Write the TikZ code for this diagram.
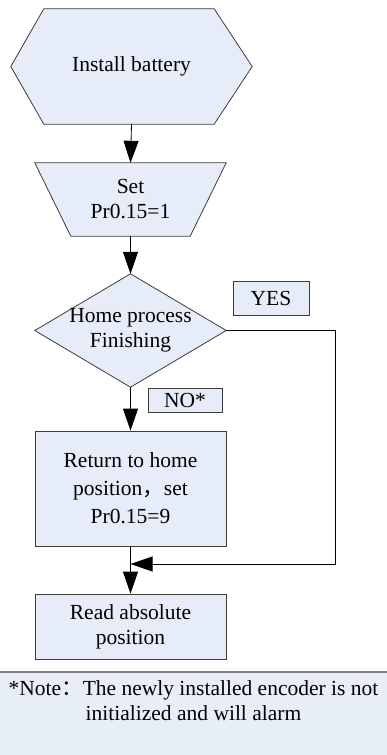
\documentclass[tikz,border=0pt]{standalone}
\usepackage{fontspec}
\setmainfont{Liberation Serif}
\newfontfamily\cjk{Noto Sans CJK SC}
\usetikzlibrary{arrows.meta,calc}
\pgfdeclarelayer{bg}
\pgfsetlayers{bg,main}
\definecolor{boxfill}{RGB}{230,236,248}
\definecolor{boxline}{RGB}{60,60,60}
\definecolor{notefill}{RGB}{232,238,248}
\definecolor{noteline}{RGB}{128,128,128}
\begin{document}
\begin{tikzpicture}[x=1pt,y=1pt,
  lbl/.style={inner sep=0pt, align=center, font=\fontsize{21.5}{25}\selectfont, text=black},
  shapeline/.style={fill=boxfill, draw=boxline, line width=0.8pt},
  rectbox/.style={lbl, shapeline, minimum width=191pt},
  tagbox/.style={lbl, shapeline},
  flow/.style={draw=black, line width=0.8pt, -{Triangle[length=22pt,width=15pt]}},
]
\useasboundingbox (0,0) rectangle (387,-755);

% nodes
\node[lbl, minimum width=241pt, minimum height=115pt] (hex) at (131.5,-66.5) {Install battery};
\node[lbl, minimum width=191pt, minimum height=73pt] (trap) at (130.5,-199.5) {Set\\Pr0.15=1};
\node[lbl, minimum width=191pt, minimum height=113pt] (dec) at (130.5,-330.5) {Home process\\Finishing};
\node[rectbox, minimum height=115pt, font=\fontsize{21.5}{28}\selectfont] (ret) at (130.5,-488.5) {Return to home\\position{\cjk ，}set\\Pr0.15=9};
\node[rectbox, minimum height=65pt] (read) at (130.5,-626.5) {Read absolute\\position};
\node[tagbox, minimum width=76pt, minimum height=34pt] (yes) at (271,-298) {YES};
\node[tagbox, minimum width=74pt, minimum height=24pt] (no) at (185,-400) {NO*};

% shape outlines behind the text
\begin{pgfonlayer}{bg}
  \draw[shapeline] (hex.west) -- ([xshift=33pt]hex.north west) -- ([xshift=-38pt]hex.north east)
     -- (hex.east) -- ([xshift=-38pt]hex.south east) -- ([xshift=33pt]hex.south west) -- cycle;
  \draw[shapeline] (trap.north west) -- (trap.north east) -- ([xshift=-36pt]trap.south east)
     -- ([xshift=36pt]trap.south west) -- cycle;
  \draw[shapeline] (dec.north) -- (dec.east) -- (dec.south) -- (dec.west) -- cycle;
\end{pgfonlayer}

% note
\node[inner sep=0pt, minimum width=387pt, minimum height=83pt, fill=notefill, anchor=north west] (notebox) at (0,-672) {};
\draw[noteline, line width=2pt] (notebox.north west) -- (notebox.north east);
\node[lbl] (note) at (193.5,-701) {*Note{\cjk ：}The newly installed encoder is not\\initialized and will alarm};

% connectors
\draw[flow] (hex.south) -- (trap.north);
\draw[flow] (trap.south) -- (dec.north);
\draw[flow] (dec.south) -- (ret.north);
\draw[flow] (ret.south) -- (read.north);
\coordinate (corner) at (335,-564);
\coordinate (join) at (ret.south |- corner);
\draw[flow] (dec.east) -| (corner) -- (join);
\end{tikzpicture}
\end{document}
